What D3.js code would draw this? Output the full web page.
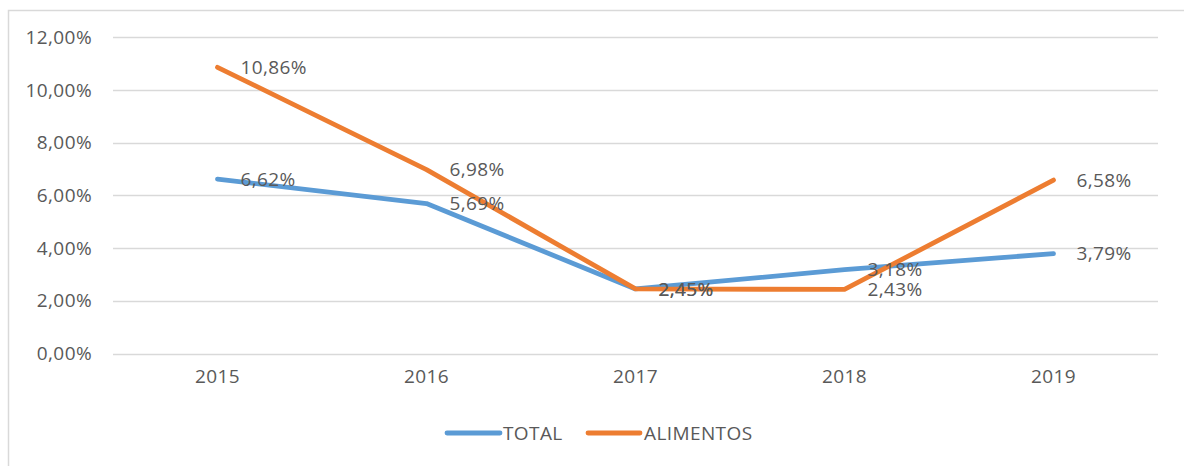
<!DOCTYPE html>
<html>
<head>
<meta charset="utf-8">
<script src="https://cdn.jsdelivr.net/npm/d3@7"></script>
<style>
  html, body { margin: 0; padding: 0; background: #fff; }
  svg { display: block; font-family: "Open Sans", sans-serif; }
  svg text { letter-spacing: 0.4px; }
</style>
</head>
<body>
<div id="chart"></div>
<script>
// Jahre und Serien (Werte in %)
const years = ['2015', '2016', '2017', '2018', '2019'];
const total = [6.62, 5.69, 2.45, 3.18, 3.79];
const alimentos = [10.86, 6.98, 2.45, 2.43, 6.58];
const yTicks = [0, 2, 4, 6, 8, 10, 12];
const seriesNames = ['TOTAL', 'ALIMENTOS'];
const seriesColors = ['#5B9BD5', '#ED7D31'];

const width = 1184;
const height = 466;
const textColor = '#595959';
const gridColor = '#d9d9d9';
const fontSize = '19px';

const fmt = v => v.toFixed(2).replace('.', ',') + '%';

const svg = d3.select('#chart')
  .append('svg')
  .attr('width', width)
  .attr('height', height);

// Rahmen des Diagramms (rechts/unten abgeschnitten)
svg.append('rect')
  .attr('x', 8.5)
  .attr('y', 10.5)
  .attr('width', 1180)
  .attr('height', 470)
  .attr('fill', 'none')
  .attr('stroke', gridColor)
  .attr('stroke-width', 1.5);

const x = d3.scaleBand()
  .domain(years)
  .range([113, 1158])
  .padding(0);

const y = d3.scaleLinear()
  .domain([0, 12])
  .range([353.5, 37.3]);

// Gitternetz
svg.append('g')
  .selectAll('line')
  .data(yTicks)
  .join('line')
  .attr('x1', 113)
  .attr('x2', 1158)
  .attr('y1', d => Math.round(y(d)) + 0.5)
  .attr('y2', d => Math.round(y(d)) + 0.5)
  .attr('stroke', gridColor)
  .attr('stroke-width', 1.3);

// Y-Achse
const yAxis = svg.append('g')
  .attr('transform', 'translate(92,0)')
  .call(d3.axisLeft(y).tickValues(yTicks).tickFormat(fmt).tickSize(0).tickPadding(0));
yAxis.select('.domain').remove();
yAxis.selectAll('text')
  .attr('fill', textColor)
  .attr('font-size', fontSize)
  .attr('font-family', '"Open Sans", sans-serif');

// X-Achse
const xAxis = svg.append('g')
  .attr('transform', 'translate(0,369)')
  .call(d3.axisBottom(x).tickSize(0).tickPadding(0));
xAxis.select('.domain').remove();
xAxis.selectAll('text')
  .attr('fill', textColor)
  .attr('font-size', fontSize)
  .attr('font-family', '"Open Sans", sans-serif');

const cx = d => x(d) + x.bandwidth() / 2;
const series = [total, alimentos];

const line = d3.line()
  .x((d, i) => cx(years[i]))
  .y(d => y(d));

svg.append('g')
  .selectAll('path')
  .data(series)
  .join('path')
  .attr('d', line)
  .attr('fill', 'none')
  .attr('stroke', (d, i) => seriesColors[i])
  .attr('stroke-width', 4.8)
  .attr('stroke-linejoin', 'round')
  .attr('stroke-linecap', 'round');

// Datenbeschriftungen rechts vom Punkt
series.forEach(vals => {
  svg.append('g')
    .selectAll('text')
    .data(vals)
    .join('text')
    .attr('x', (d, i) => cx(years[i]) + 23)
    .attr('y', d => y(d))
    .attr('dy', '0.35em')
    .attr('fill', textColor)
    .attr('font-size', fontSize)
    .text(d => fmt(d));
});

// Legende
const legendItems = [
  { x1: 447, x2: 500, tx: 503 },
  { x1: 588, x2: 640, tx: 644 }
];
const legend = svg.append('g');
legendItems.forEach((it, i) => {
  legend.append('line')
    .attr('x1', it.x1).attr('x2', it.x2)
    .attr('y1', 433).attr('y2', 433)
    .attr('stroke', seriesColors[i])
    .attr('stroke-width', 4.8)
    .attr('stroke-linecap', 'round');
  legend.append('text')
    .attr('x', it.tx)
    .attr('y', 433)
    .attr('dy', '0.35em')
    .attr('fill', textColor)
    .attr('font-size', fontSize)
    .text(seriesNames[i]);
});
</script>
</body>
</html>
